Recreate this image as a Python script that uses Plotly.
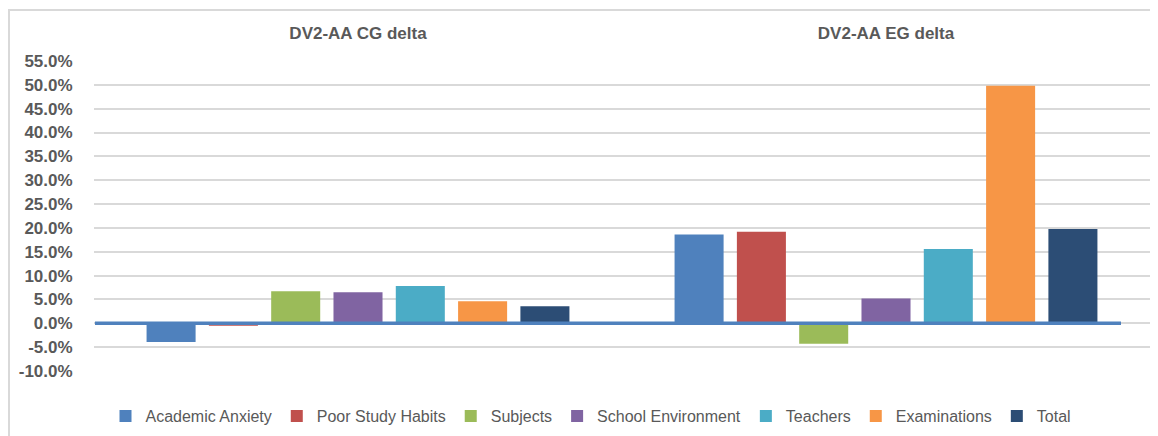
import plotly.graph_objects as go

groups = ["DV2-AA CG delta", "DV2-AA EG delta"]
series_names = ["Academic Anxiety", "Poor Study Habits", "Subjects", "School Environment",
                "Teachers", "Examinations", "Total"]
academic_anxiety = [-3.9, 18.6]
poor_study_habits = [-0.5, 19.2]
subjects = [6.7, -4.3]
school_environment = [6.5, 5.2]
teachers = [7.8, 15.6]
examinations = [4.6, 49.8]
total = [3.6, 19.8]
y_ticks = [-10, -5, 0, 5, 10, 15, 20, 25, 30, 35, 40, 45, 50, 55]

values = [academic_anxiety, poor_study_habits, subjects, school_environment,
          teachers, examinations, total]
colors = ["#4F81BD", "#C0504D", "#9BBB59", "#8064A2", "#4BACC6", "#F79646", "#2C4D75"]

OFF = 8  # page body margin
W, H = 1158 - OFF, 436 - OFF
# plot area in page pixels
PL, PR, PT, PB = 94, 1150, 61, 371
L, R, T, B = PL - OFF, W - (PR - OFF), PT - OFF, H - (PB - OFF)
pw, ph = PR - PL, PB - PT

def px_x(p):
    return (p - PL) / pw

def px_y(q):
    return (PB - q) / ph

fig = go.Figure()
for name, vals, col in zip(series_names, values, colors):
    fig.add_trace(go.Bar(x=groups, y=vals, name=name, marker_color=col,
                         marker_line_width=0))

font_family = "Liberation Sans, Arial, sans-serif"
fig.update_layout(
    width=W, height=H,
    margin=dict(l=L, r=R, t=T, b=B, autoexpand=False),
    paper_bgcolor="white", plot_bgcolor="white",
    barmode="group", bargap=0.174, bargroupgap=0.213,
    font=dict(family=font_family, color="#595959"),
    showlegend=True,
    legend=dict(orientation="h", x=px_x(591), xanchor="center",
                y=px_y(416), yanchor="middle",
                font=dict(size=16, color="#595959", family=font_family),
                bgcolor="rgba(0,0,0,0)", itemwidth=30, traceorder="normal"),
    xaxis=dict(side="top", showgrid=False, zeroline=False, showline=False,
               automargin=False,
               ticks="outside", ticklen=14, tickcolor="rgba(0,0,0,0)",
               tickfont=dict(size=17, color="#595959", family=font_family)),
    yaxis=dict(range=[-10, 55], tickvals=y_ticks,
               ticktext=[f"<b>{v:.1f}%</b>" for v in y_ticks],
               showgrid=True, gridcolor="#D9D9D9", gridwidth=1.5,
               zeroline=False, showline=False, automargin=False,
               ticks="outside", ticklen=17, tickcolor="rgba(0,0,0,0)",
               tickfont=dict(size=17, color="#595959", family=font_family)),
)
# bold category labels
fig.update_xaxes(tickvals=groups, ticktext=[f"<b>{g}</b>" for g in groups])

# zero axis line (thick blue)
fig.add_shape(type="line", xref="paper", yref="y", x0=px_x(95), x1=px_x(1121),
              y0=0, y1=0, line=dict(color="#4F81BD", width=3.5), layer="above")
# chart frame
fig.add_shape(type="rect", xref="paper", yref="paper", x0=px_x(9), x1=px_x(1170),
              y0=px_y(450), y1=px_y(10), line=dict(color="#D9D9D9", width=2),
              fillcolor="rgba(0,0,0,0)", layer="below")

fig.write_html("out.html")
